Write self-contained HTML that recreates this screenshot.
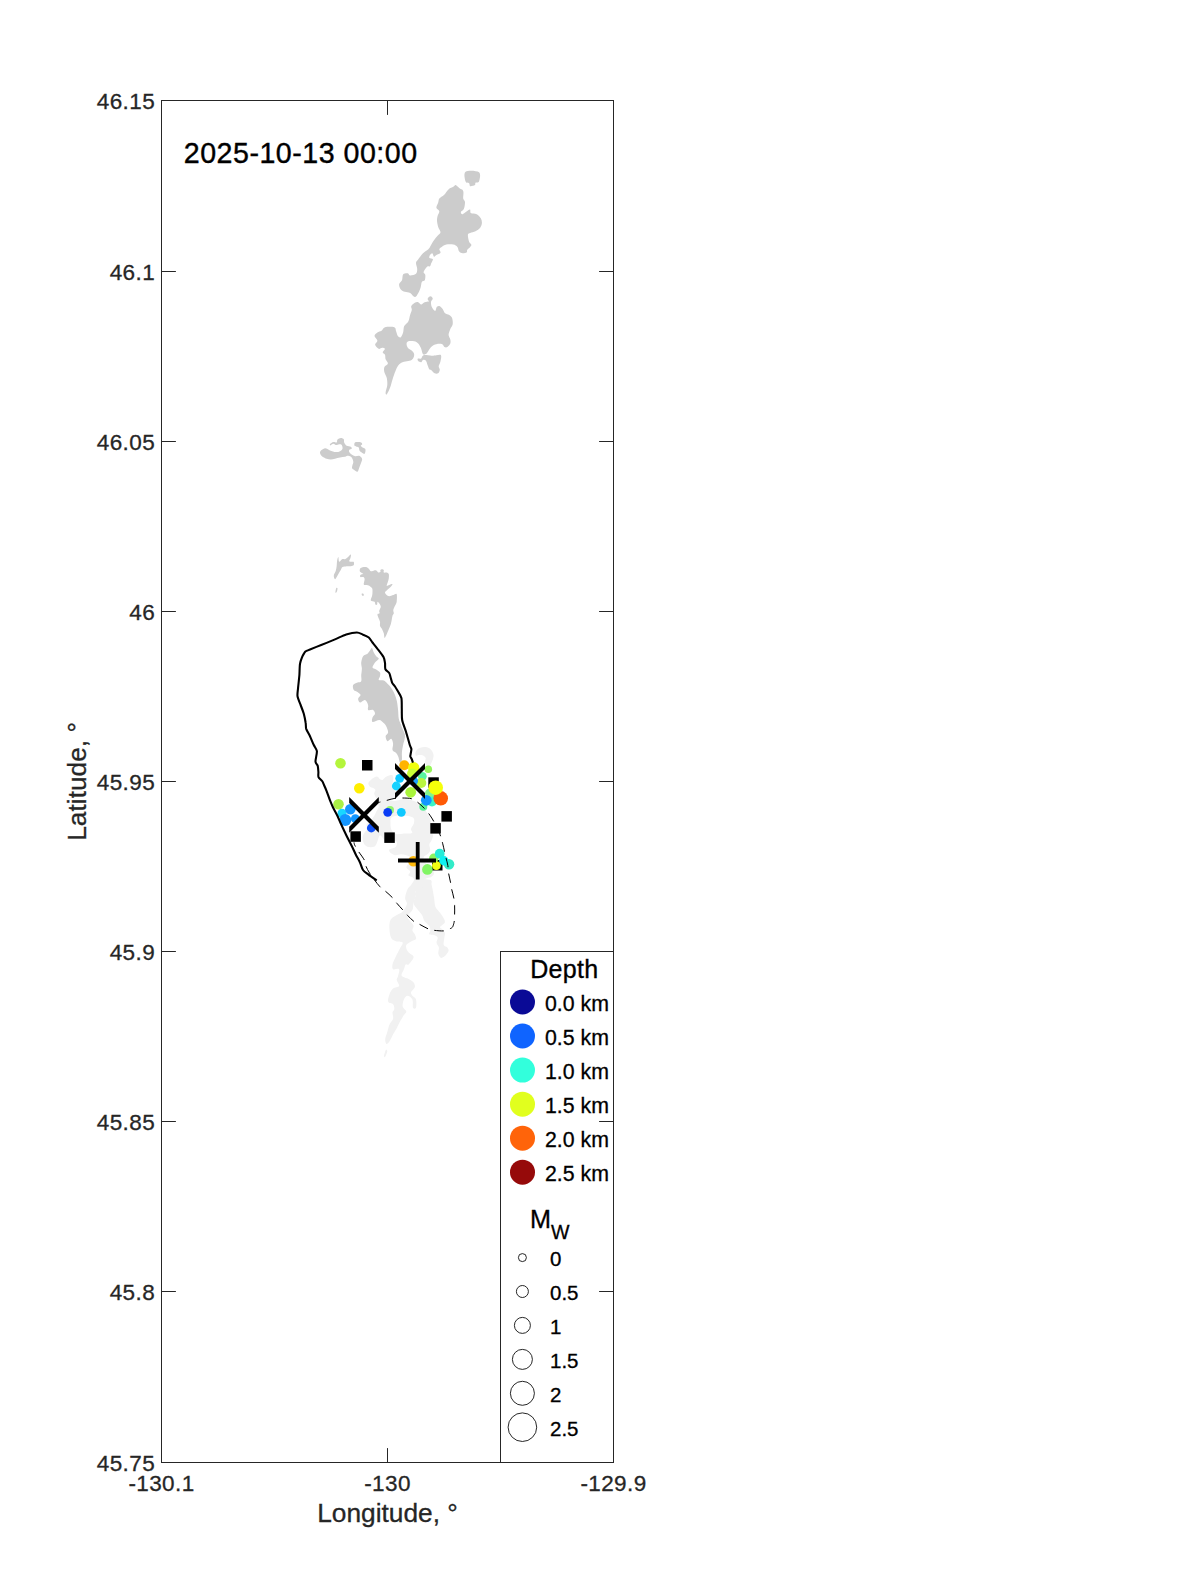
<!DOCTYPE html>
<html lang="en"><head><meta charset="utf-8"><title>Seismicity map</title>
<style>html,body{margin:0;padding:0;background:#fff}svg{display:block}text{font-family:"Liberation Sans",sans-serif}</style></head><body>
<svg width="1200" height="1575" viewBox="0 0 1200 1575">
<rect width="1200" height="1575" fill="#fff"/>
<g fill="#f1f1f1">
<path d="M412.4,884.8 C410.5,886.4 408.7,887.4 407.5,889.6 C406.3,891.9 405.2,895.7 405.1,898.1 C405.0,900.5 407.3,901.9 406.9,904.1 C406.5,906.3 404.4,909.5 402.7,911.4 C401.0,913.2 398.7,913.6 396.7,915.0 C394.7,916.4 391.9,917.6 390.6,919.8 C389.4,922.0 389.3,925.2 389.4,928.2 C389.5,931.2 390.0,935.7 391.2,937.9 C392.5,940.1 394.8,940.7 396.7,941.5 C398.6,942.3 402.3,941.3 402.7,942.7 C403.1,944.1 400.4,947.3 399.1,949.9 C397.8,952.6 396.0,956.0 394.9,958.4 C393.8,960.8 392.8,962.6 392.5,964.4 C392.2,966.2 392.0,968.4 393.1,969.2 C394.2,970.0 398.3,968.0 399.1,969.2 C399.9,970.4 398.3,974.7 397.9,976.5 C397.5,978.3 396.5,978.5 396.7,980.1 C396.9,981.7 399.7,984.7 399.1,986.1 C398.5,987.5 394.7,987.1 393.1,988.5 C391.4,989.9 390.2,992.3 389.4,994.6 C388.6,996.8 387.6,1000.2 388.2,1001.8 C388.8,1003.4 392.1,1003.0 393.1,1004.2 C394.1,1005.4 394.4,1007.6 394.3,1009.0 C394.2,1010.4 392.7,1011.0 392.5,1012.6 C392.3,1014.3 393.6,1016.7 393.1,1018.7 C392.6,1020.7 390.4,1022.3 389.4,1024.7 C388.4,1027.1 387.7,1030.7 387.0,1033.1 C386.3,1035.6 385.3,1037.4 385.2,1039.2 C385.1,1041.0 385.7,1043.6 386.4,1044.0 C387.1,1044.4 388.3,1043.2 389.4,1041.6 C390.5,1040.0 391.9,1036.6 393.1,1034.3 C394.3,1032.1 395.5,1030.5 396.7,1028.3 C397.9,1026.1 399.1,1023.3 400.3,1021.1 C401.5,1018.9 402.9,1016.7 403.9,1015.1 C404.9,1013.4 406.5,1012.8 406.3,1011.4 C406.1,1010.0 403.1,1008.6 402.7,1006.6 C402.3,1004.6 403.1,1001.2 403.9,999.4 C404.7,997.6 406.1,995.8 407.5,995.8 C408.9,995.8 411.4,997.4 412.4,999.4 C413.3,1001.4 412.4,1006.4 413.0,1007.8 C413.6,1009.2 415.5,1009.2 416.0,1007.8 C416.5,1006.4 416.6,1001.4 416.0,999.4 C415.4,997.4 413.2,997.0 412.4,995.8 C411.5,994.6 410.7,993.6 411.1,992.1 C411.5,990.7 414.4,988.9 414.8,987.3 C415.2,985.7 414.6,983.9 413.6,982.5 C412.6,981.1 410.1,979.7 408.7,978.9 C407.3,978.1 406.3,978.3 405.1,977.7 C403.9,977.1 401.7,976.7 401.5,975.3 C401.3,973.9 403.2,971.0 403.9,969.2 C404.6,967.4 404.9,965.2 405.7,964.4 C406.5,963.6 407.4,965.6 408.7,964.4 C410.0,963.2 413.4,959.0 413.6,957.2 C413.8,955.4 411.0,954.8 409.9,953.6 C408.8,952.4 407.5,951.3 406.9,949.9 C406.3,948.5 405.6,946.5 406.3,945.1 C407.0,943.7 409.5,942.5 411.1,941.5 C412.8,940.5 415.4,940.3 416.0,939.1 C416.6,937.9 415.4,935.7 414.8,934.3 C414.2,932.9 412.6,932.1 412.4,930.6 C412.2,929.2 413.8,927.2 413.6,925.8 C413.4,924.4 412.2,923.8 411.1,922.2 C410.1,920.6 407.3,918.2 407.5,916.2 C407.7,914.2 411.3,912.4 412.4,910.1 C413.4,907.9 413.0,905.5 413.6,902.9 C414.2,900.3 415.8,897.1 416.0,894.5 C416.2,891.9 414.4,889.6 414.8,887.2 C415.2,884.8 418.8,880.4 418.4,880.0 C418.0,879.6 414.2,883.2 412.4,884.8Z"/>
<path d="M418.4,880.0 C415.8,881.2 415.2,884.8 414.8,887.2 C414.4,889.6 416.2,891.9 416.0,894.5 C415.8,897.1 413.4,900.5 413.6,902.9 C413.8,905.3 415.8,906.9 417.2,908.9 C418.6,911.0 420.8,913.0 422.0,915.0 C423.2,917.0 423.2,919.2 424.4,921.0 C425.6,922.8 428.2,924.2 429.2,925.8 C430.2,927.4 430.4,929.2 430.4,930.6 C430.4,932.1 428.4,933.5 429.2,934.3 C430.0,935.1 433.9,934.9 435.3,935.5 C436.7,936.1 437.5,936.7 437.7,937.9 C437.9,939.1 436.3,941.1 436.5,942.7 C436.7,944.3 438.6,945.7 438.9,947.5 C439.2,949.3 438.0,951.8 438.3,953.6 C438.6,955.3 439.6,957.4 440.7,957.8 C441.8,958.2 443.6,957.1 444.9,956.0 C446.2,954.9 448.1,952.6 448.5,951.1 C448.9,949.7 448.1,948.5 447.3,947.5 C446.5,946.5 444.2,946.7 443.7,945.1 C443.2,943.5 444.1,939.9 444.3,937.9 C444.5,935.9 445.2,934.5 444.9,933.1 C444.6,931.7 443.3,930.4 442.5,929.4 C441.7,928.4 439.7,928.2 440.1,927.0 C440.5,925.8 444.5,924.0 444.9,922.2 C445.3,920.4 443.5,918.0 442.5,916.2 C441.5,914.4 440.1,913.0 438.9,911.4 C437.7,909.7 436.1,908.7 435.3,906.5 C434.5,904.3 434.5,900.7 434.1,898.1 C433.7,895.5 433.3,893.1 432.9,890.9 C432.4,888.6 432.0,886.6 431.6,884.8 C431.2,883.0 432.7,880.8 430.4,880.0 C428.2,879.2 421.0,878.8 418.4,880.0Z"/>
<path d="M385.8,1050.0 C386.4,1049.2 387.4,1050.1 387.3,1051.2 C387.2,1052.3 385.8,1055.9 385.2,1056.7 C384.7,1057.5 383.9,1057.2 384.0,1056.1 C384.1,1054.9 385.3,1050.8 385.8,1050.0Z"/>
<path d="M368.3,783.3 C368.5,782.2 369.9,781.0 370.8,780.0 C371.8,779.0 373.1,778.1 374.2,777.5 C375.3,776.9 376.5,776.4 377.5,776.7 C378.5,776.9 379.2,778.6 380.0,779.2 C380.8,779.7 381.7,780.3 382.5,780.0 C383.3,779.7 384.0,778.2 385.0,777.5 C386.0,776.8 387.2,776.2 388.3,775.8 C389.5,775.4 391.2,774.7 392.1,775.0 C392.9,775.3 393.2,776.4 393.3,777.5 C393.5,778.6 393.1,780.4 392.9,781.7 C392.7,782.9 392.0,783.9 392.1,785.0 C392.2,786.1 392.8,787.4 393.3,788.3 C393.9,789.3 395.2,789.7 395.4,790.8 C395.6,791.9 394.6,793.8 394.6,795.0 C394.6,796.2 395.9,797.7 395.4,798.3 C394.9,799.0 393.1,798.5 391.7,798.8 C390.2,799.0 388.5,799.4 386.7,800.0 C384.9,800.6 382.3,802.1 380.8,802.1 C379.4,802.1 378.8,800.9 377.9,800.0 C377.0,799.1 376.0,797.8 375.4,796.7 C374.8,795.6 374.2,794.4 374.2,793.3 C374.2,792.2 375.6,790.9 375.4,790.0 C375.3,789.1 374.2,788.5 373.3,787.9 C372.4,787.4 370.8,787.4 370.0,786.7 C369.2,785.9 368.2,784.4 368.3,783.3Z"/>
<path d="M415.3,753.0 C415.5,752.0 416.2,750.6 417.0,749.7 C417.8,748.8 419.0,748.1 420.3,747.7 C421.7,747.2 423.6,746.8 425.0,746.9 C426.4,746.9 427.8,747.3 429.0,748.0 C430.2,748.7 431.2,749.8 432.0,751.0 C432.8,752.2 433.4,753.7 433.5,755.0 C433.7,756.3 433.4,757.7 433.0,759.0 C432.6,760.3 432.0,761.7 431.3,763.0 C430.7,764.3 429.8,766.7 429.0,767.0 C428.2,767.3 427.0,765.9 426.3,765.0 C425.7,764.1 425.1,762.8 425.0,761.7 C424.9,760.6 425.8,759.2 425.7,758.3 C425.6,757.4 425.0,756.9 424.3,756.3 C423.7,755.8 422.7,755.2 421.7,755.0 C420.7,754.8 419.3,754.9 418.3,755.0 C417.4,755.1 416.5,756.0 416.0,755.7 C415.5,755.3 415.2,754.0 415.3,753.0Z"/>
<path d="M378.8,802.9 C380.2,801.7 384.7,800.3 387.4,800.0 C390.1,799.7 392.1,801.1 395.0,801.0 C397.9,800.8 401.3,799.0 404.5,799.0 C407.7,799.0 411.5,800.0 414.0,801.0 C416.6,801.9 417.9,803.2 419.8,804.8 C421.7,806.3 423.7,808.1 425.5,810.5 C427.2,812.9 429.3,816.5 430.2,819.0 C431.2,821.6 431.2,823.7 431.2,825.7 C431.2,827.8 429.9,829.8 430.2,831.4 C430.6,833.0 432.9,833.7 433.1,835.2 C433.3,836.8 431.8,839.4 431.2,841.0 C430.6,842.5 429.4,843.2 429.3,844.8 C429.1,846.3 430.6,848.9 430.2,850.5 C429.9,852.1 428.5,853.2 427.4,854.3 C426.3,855.4 423.9,855.7 423.6,857.1 C423.3,858.6 424.2,861.1 425.5,862.9 C426.7,864.6 429.8,865.9 431.2,867.6 C432.6,869.4 434.0,871.7 434.0,873.3 C434.0,874.9 432.3,876.3 431.2,877.1 C430.1,877.9 428.7,877.6 427.4,878.1 C426.1,878.6 424.7,879.2 423.6,880.0 C422.5,880.8 421.0,881.2 420.7,882.9 C420.4,884.5 423.7,888.8 421.7,890.0 C419.6,891.2 410.1,890.9 408.3,890.0 C406.6,889.1 410.2,886.4 411.2,884.8 C412.1,883.1 413.9,881.3 414.0,880.0 C414.2,878.7 413.1,877.9 412.1,877.1 C411.2,876.3 408.7,876.2 408.3,875.2 C408.0,874.3 410.6,872.7 410.2,871.4 C409.9,870.2 406.7,868.9 406.4,867.6 C406.1,866.3 407.5,865.4 408.3,863.8 C409.1,862.2 411.5,859.5 411.2,858.1 C410.9,856.7 408.2,855.9 406.4,855.2 C404.7,854.6 402.6,854.3 400.7,854.3 C398.8,854.3 396.7,855.6 395.0,855.2 C393.3,854.9 391.2,853.3 390.2,852.4 C389.3,851.4 388.5,850.3 389.3,849.5 C390.1,848.7 393.7,848.6 395.0,847.6 C396.3,846.7 396.9,844.9 396.9,843.8 C396.9,842.7 396.9,841.1 395.0,841.0 C393.1,840.8 387.4,843.2 385.5,842.9 C383.6,842.5 384.5,840.3 383.6,839.0 C382.6,837.8 380.9,834.6 379.8,835.2 C378.7,835.9 377.9,841.0 376.9,842.9 C376.0,844.8 375.6,846.0 374.0,846.7 C372.5,847.3 369.1,847.3 367.4,846.7 C365.6,846.0 364.4,844.4 363.6,842.9 C362.8,841.3 362.5,838.9 362.6,837.1 C362.8,835.4 363.6,833.8 364.5,832.4 C365.5,831.0 368.0,829.8 368.3,828.6 C368.7,827.3 366.1,826.0 366.4,824.8 C366.7,823.5 369.0,822.4 370.2,821.0 C371.5,819.5 372.9,817.9 374.0,816.2 C375.2,814.4 376.1,812.1 376.9,810.5 C377.7,808.9 378.5,807.9 378.8,806.7 C379.1,805.4 377.4,804.0 378.8,802.9Z"/>
</g>
<path d="M392.0,817.0 C394.1,815.8 399.5,815.4 403.0,815.5 C406.5,815.6 411.2,816.2 413.0,817.5 C414.8,818.8 414.3,821.1 414.0,823.0 C413.7,824.9 411.3,827.3 411.0,829.0 C410.7,830.7 413.2,832.2 412.0,833.0 C410.8,833.8 406.7,833.3 404.0,833.5 C401.3,833.7 398.1,834.6 396.0,834.0 C393.9,833.4 392.4,831.8 391.5,830.0 C390.6,828.2 390.4,825.2 390.5,823.0 C390.6,820.8 389.9,818.2 392.0,817.0Z" fill="#fff"/>
<g fill="#cccccc">
<path d="M465.6,171.7 C467.8,170.1 476.8,170.6 479.0,172.2 C481.2,173.9 479.6,179.8 479.0,181.6 C478.4,183.3 476.2,182.2 475.5,182.8 C474.8,183.3 475.8,184.5 474.9,185.1 C474.0,185.7 471.2,186.5 470.2,186.2 C469.3,186.0 469.9,184.1 469.1,183.3 C468.3,182.6 466.2,183.5 465.6,181.6 C465.0,179.6 463.3,173.2 465.6,171.7Z"/>
<path d="M455.7,185.1 C456.6,185.3 457.9,187.0 459.2,188.0 C460.4,189.0 462.6,189.2 463.2,190.9 C463.9,192.7 463.0,196.7 463.2,198.5 C463.5,200.3 464.9,200.2 465.0,202.0 C465.1,203.8 464.5,207.3 463.8,209.0 C463.2,210.7 461.1,211.0 460.9,211.9 C460.7,212.8 461.2,214.6 462.7,214.2 C464.1,213.9 468.3,209.8 469.7,209.6 C471.0,209.4 469.7,212.3 470.8,213.1 C472.0,213.9 475.0,213.4 476.7,214.2 C478.3,215.1 479.9,216.9 480.8,218.3 C481.6,219.8 482.0,221.4 481.9,223.0 C481.8,224.6 481.2,226.3 480.2,227.7 C479.1,229.0 477.2,230.3 475.5,231.2 C473.8,232.0 471.5,232.3 470.2,232.9 C469.0,233.5 468.1,233.2 467.9,234.7 C467.7,236.1 468.5,239.9 469.1,241.7 C469.7,243.4 471.7,243.8 471.4,245.2 C471.1,246.5 468.1,248.7 467.3,249.8 C466.6,251.0 467.5,251.6 466.8,252.2 C466.0,252.8 463.9,253.4 462.7,253.3 C461.4,253.2 460.0,252.7 459.2,251.6 C458.3,250.5 458.4,248.1 457.4,246.9 C456.4,245.8 455.2,245.0 453.3,244.6 C451.5,244.2 448.3,244.2 446.3,244.6 C444.4,245.0 442.8,246.1 441.7,246.9 C440.5,247.7 439.5,248.3 439.3,249.2 C439.1,250.2 441.0,251.8 440.5,252.8 C440.0,253.7 437.5,254.4 436.4,255.1 C435.3,255.8 434.8,257.1 434.1,256.8 C433.4,256.5 433.0,253.6 432.3,253.3 C431.7,253.0 430.5,254.3 430.0,255.1 C429.5,255.9 428.9,257.3 429.4,258.0 C429.9,258.7 432.6,258.3 432.9,259.2 C433.2,260.0 431.7,262.1 431.2,263.2 C430.7,264.4 430.7,265.6 430.0,266.2 C429.3,266.8 428.2,265.8 427.1,266.8 C426.0,267.7 423.9,270.6 423.6,272.0 C423.3,273.4 425.1,273.6 425.3,274.9 C425.5,276.3 425.3,279.0 424.8,280.2 C424.2,281.3 422.5,280.8 421.8,281.9 C421.2,283.1 421.2,285.3 420.7,287.2 C420.1,289.0 419.3,291.3 418.3,293.0 C417.4,294.7 416.2,297.1 414.8,297.1 C413.5,297.1 411.8,293.9 410.2,293.0 C408.5,292.1 406.5,292.4 404.9,291.8 C403.4,291.3 401.8,290.8 400.8,289.5 C399.9,288.2 398.9,285.8 399.1,284.2 C399.3,282.7 401.3,281.8 402.0,280.2 C402.7,278.5 402.2,275.5 403.2,274.3 C404.1,273.2 406.7,273.0 407.8,273.2 C409.0,273.4 408.8,275.4 410.2,275.5 C411.5,275.6 414.8,274.8 416.0,273.8 C417.2,272.7 417.2,270.9 417.2,269.1 C417.2,267.2 415.8,264.3 416.0,262.7 C416.2,261.0 417.2,260.7 418.3,259.2 C419.5,257.6 421.4,254.9 423.0,253.3 C424.6,251.8 426.5,250.9 427.7,249.8 C428.8,248.8 429.1,248.3 430.0,246.9 C430.9,245.6 431.7,243.5 432.9,241.7 C434.2,239.8 436.3,237.4 437.6,235.8 C438.8,234.3 440.4,233.8 440.5,232.3 C440.6,230.9 438.8,229.0 438.2,227.1 C437.6,225.1 437.1,222.5 437.0,220.7 C436.9,218.8 437.2,217.6 437.6,216.0 C438.0,214.4 439.5,212.7 439.3,211.3 C439.1,210.0 436.6,209.3 436.4,207.8 C436.2,206.4 437.7,204.1 438.2,202.6 C438.7,201.0 438.4,199.8 439.3,198.5 C440.3,197.2 442.4,196.6 444.0,195.0 C445.6,193.4 447.1,190.5 448.7,189.2 C450.2,187.8 452.2,187.5 453.3,186.8 C454.5,186.2 454.7,184.9 455.7,185.1Z"/>
<path d="M430.5,296.3 C431.4,296.3 432.7,297.8 432.8,298.7 C432.9,299.5 431.3,300.2 431.1,301.6 C430.9,302.9 431.0,305.3 431.7,306.8 C432.3,308.4 434.3,310.9 435.2,310.9 C436.0,310.9 436.1,307.6 436.9,306.8 C437.7,306.1 438.9,305.9 439.8,306.2 C440.8,306.6 441.9,308.0 442.8,309.2 C443.6,310.3 444.0,312.3 445.1,313.2 C446.2,314.2 448.0,314.2 449.2,315.0 C450.3,315.8 451.5,316.4 452.1,317.9 C452.7,319.5 453.0,322.5 452.7,324.3 C452.4,326.2 451.0,327.2 450.3,329.0 C449.7,330.8 448.6,333.1 448.6,334.8 C448.6,336.6 450.0,338.0 450.3,339.5 C450.6,341.0 450.8,342.3 450.3,343.6 C449.8,344.8 448.4,346.5 447.4,347.1 C446.4,347.7 445.4,347.6 444.5,347.1 C443.6,346.6 443.5,344.7 442.2,344.2 C440.8,343.7 438.1,343.8 436.3,344.2 C434.6,344.6 433.0,345.3 431.7,346.5 C430.3,347.7 429.1,349.9 428.2,351.2 C427.2,352.4 426.7,353.6 425.8,354.1 C425.0,354.6 423.7,355.0 422.9,354.1 C422.1,353.2 421.9,350.6 421.2,348.8 C420.4,347.1 419.4,344.8 418.2,343.6 C417.1,342.3 415.8,341.6 414.2,341.2 C412.5,340.9 409.6,340.9 408.3,341.2 C407.1,341.6 406.7,342.5 406.6,343.6 C406.5,344.7 406.8,346.4 407.8,347.7 C408.7,348.9 411.3,350.0 412.4,351.2 C413.5,352.3 414.2,353.3 414.2,354.7 C414.2,356.0 413.4,358.3 412.4,359.3 C411.4,360.4 410.0,360.6 408.3,361.1 C406.7,361.6 404.2,361.6 402.5,362.2 C400.8,362.9 399.6,363.7 398.4,365.2 C397.2,366.6 396.5,368.7 395.5,371.0 C394.5,373.3 393.5,376.4 392.6,379.2 C391.7,381.9 391.2,384.8 390.2,387.3 C389.3,389.9 387.5,393.5 386.8,394.3 C386.0,395.2 385.5,394.1 385.6,392.6 C385.7,391.0 387.1,387.4 387.3,385.0 C387.5,382.6 387.2,380.1 386.8,378.0 C386.3,375.9 384.8,374.0 384.4,372.2 C384.0,370.3 383.8,368.4 384.4,366.9 C385.0,365.5 387.7,364.7 387.9,363.4 C388.1,362.2 386.1,360.8 385.6,359.3 C385.1,357.9 385.5,355.8 385.0,354.7 C384.5,353.5 382.7,353.3 382.7,352.3 C382.7,351.4 385.1,349.6 385.0,348.8 C384.9,348.1 383.2,347.7 382.1,347.7 C381.0,347.7 379.8,349.3 378.6,348.8 C377.4,348.3 375.3,346.1 375.1,344.8 C374.9,343.4 377.5,342.1 377.4,340.7 C377.3,339.2 374.5,337.4 374.5,336.0 C374.5,334.6 376.2,333.4 377.4,332.5 C378.6,331.6 380.2,331.6 381.5,330.8 C382.8,329.9 382.9,327.8 385.0,327.2 C387.1,326.7 392.5,326.6 394.3,327.2 C396.2,327.9 395.5,329.9 396.1,331.3 C396.7,332.8 397.1,335.0 397.8,336.0 C398.6,337.0 399.9,337.8 400.8,337.2 C401.6,336.6 402.5,334.3 403.1,332.5 C403.7,330.7 403.4,327.9 404.2,326.1 C405.1,324.2 407.4,323.3 408.3,321.4 C409.3,319.6 409.5,316.9 410.1,315.0 C410.7,313.1 411.6,311.2 411.8,309.8 C412.0,308.3 410.8,307.4 411.2,306.2 C411.7,305.1 413.6,303.4 414.8,302.8 C415.9,302.1 417.2,301.9 418.2,302.2 C419.3,302.5 420.1,304.5 421.2,304.5 C422.2,304.5 423.4,302.7 424.7,302.2 C425.9,301.7 428.3,302.2 428.8,301.6 C429.2,301.0 427.3,299.5 427.6,298.7 C427.9,297.8 429.6,296.3 430.5,296.3Z"/>
<path d="M423.5,355.2 C425.2,354.8 429.5,355.8 431.7,355.8 C433.8,355.8 434.8,355.3 436.3,355.2 C437.9,355.2 440.3,354.2 441.0,355.2 C441.7,356.3 440.8,359.8 440.4,361.7 C440.0,363.5 438.8,365.0 438.7,366.3 C438.6,367.7 439.9,368.7 439.8,369.8 C439.7,371.0 439.0,372.8 438.1,373.3 C437.2,373.9 435.7,373.8 434.6,373.3 C433.5,372.8 432.5,371.1 431.7,370.4 C430.8,369.7 430.0,370.1 429.3,369.2 C428.7,368.4 428.2,366.6 427.6,365.2 C427.0,363.7 426.6,361.4 425.8,360.5 C425.1,359.6 423.7,359.6 422.9,359.9 C422.1,360.2 421.9,362.1 421.2,362.2 C420.4,362.4 418.8,361.7 418.2,361.1 C417.7,360.5 417.2,359.2 417.7,358.8 C418.2,358.3 420.2,359.0 421.2,358.4 C422.1,357.8 421.8,355.7 423.5,355.2Z"/>
<path d="M320.4,451.2 C321.2,450.3 323.4,448.5 325.0,448.3 C326.6,448.2 328.2,449.8 330.0,450.4 C331.8,451.0 334.2,451.9 335.8,452.1 C337.5,452.2 338.9,451.8 340.0,451.2 C341.1,450.7 342.2,449.8 342.5,448.8 C342.8,447.7 342.2,445.8 341.7,445.0 C341.1,444.2 340.1,444.2 339.2,444.2 C338.2,444.2 336.8,445.1 335.8,445.0 C334.9,444.9 334.2,443.7 333.3,443.8 C332.4,443.8 331.0,445.3 330.4,445.4 C329.9,445.5 329.5,444.7 330.0,444.2 C330.5,443.6 332.2,442.4 333.3,442.1 C334.4,441.8 336.0,442.9 336.7,442.5 C337.4,442.1 336.8,440.3 337.5,439.6 C338.2,438.8 339.8,438.0 340.8,437.9 C341.9,437.8 343.2,438.4 343.8,439.2 C344.3,439.9 343.7,441.4 344.2,442.5 C344.7,443.6 345.6,445.1 346.7,445.8 C347.8,446.5 350.0,446.2 350.8,446.7 C351.7,447.2 351.9,448.2 351.7,448.8 C351.4,449.3 349.6,449.4 349.2,450.0 C348.8,450.6 348.8,451.3 349.2,452.1 C349.6,452.8 350.7,453.9 351.7,454.6 C352.6,455.3 353.8,456.0 355.0,456.2 C356.2,456.5 358.0,455.4 359.2,455.8 C360.3,456.2 361.7,457.6 362.1,458.8 C362.4,459.9 361.7,461.2 361.2,462.5 C360.8,463.8 360.2,465.1 359.6,466.7 C359.0,468.2 358.4,471.1 357.5,471.7 C356.6,472.2 355.1,470.6 354.2,470.0 C353.3,469.4 352.4,469.2 352.1,468.3 C351.8,467.5 352.3,466.1 352.5,465.0 C352.7,463.9 353.5,462.9 353.3,461.7 C353.2,460.4 352.5,458.5 351.7,457.5 C350.8,456.5 349.4,456.0 348.3,455.8 C347.2,455.7 346.4,456.4 345.0,456.7 C343.6,456.9 341.7,457.2 340.0,457.5 C338.3,457.8 336.5,458.4 335.0,458.8 C333.5,459.1 332.2,459.6 330.8,459.6 C329.4,459.6 328.1,459.2 326.7,458.8 C325.3,458.3 323.5,457.4 322.5,456.7 C321.5,455.9 320.8,455.1 320.4,454.2 C320.1,453.3 319.7,452.2 320.4,451.2Z"/>
<path d="M354.6,442.9 C354.9,442.3 355.6,442.2 356.7,442.1 C357.8,442.0 360.3,442.1 361.2,442.5 C362.2,442.9 362.2,444.0 362.1,444.6 C362.0,445.1 360.8,445.3 360.8,445.8 C360.9,446.3 361.7,446.9 362.5,447.5 C363.3,448.1 365.1,448.1 365.4,449.2 C365.8,450.2 365.2,453.2 364.6,453.8 C364.0,454.3 362.5,453.0 361.7,452.5 C360.8,452.0 360.1,451.7 359.6,450.8 C359.1,450.0 359.2,448.2 358.8,447.5 C358.3,446.8 357.4,446.9 356.7,446.7 C356.0,446.4 354.9,446.5 354.6,445.8 C354.2,445.2 354.2,443.5 354.6,442.9Z"/>
<path d="M350.8,554.6 C351.3,554.7 350.7,557.2 350.4,558.3 C350.1,559.4 348.9,560.7 349.2,561.2 C349.4,561.8 351.3,561.5 352.1,561.7 C352.8,561.8 353.5,561.5 353.8,562.1 C354.0,562.6 354.2,564.3 353.8,565.0 C353.3,565.7 352.0,566.0 350.8,566.2 C349.7,566.5 348.1,566.1 346.7,566.2 C345.3,566.4 343.5,566.5 342.5,567.1 C341.5,567.7 341.5,569.0 340.8,570.0 C340.2,571.0 339.4,572.2 338.8,573.3 C338.1,574.5 337.3,576.1 336.7,577.1 C336.0,578.1 335.5,579.4 335.0,579.2 C334.5,578.9 333.6,576.8 333.8,575.4 C333.9,574.0 335.3,572.4 335.8,570.8 C336.3,569.2 336.5,567.5 336.7,565.8 C336.9,564.2 336.8,562.3 337.1,560.8 C337.4,559.4 338.0,556.9 338.3,557.1 C338.7,557.2 338.5,561.3 339.2,561.7 C339.8,562.0 341.1,559.6 342.1,559.2 C343.1,558.8 344.1,559.4 345.0,559.2 C345.9,558.9 346.5,558.3 347.5,557.5 C348.5,556.7 350.3,554.4 350.8,554.6Z"/>
<path d="M336.2,588.3 C336.6,587.6 337.4,587.7 337.5,588.3 C337.6,589.0 337.0,591.4 336.7,592.1 C336.3,592.8 335.5,593.1 335.4,592.5 C335.3,591.9 335.9,589.0 336.2,588.3Z"/>
<path d="M361.7,593.8 C361.9,593.5 363.0,593.5 363.3,593.8 C363.7,594.0 364.0,595.1 363.8,595.4 C363.5,595.7 362.4,595.7 362.1,595.4 C361.7,595.1 361.5,594.0 361.7,593.8Z"/>
<path d="M360.4,568.3 C361.2,567.6 363.7,567.1 365.0,567.1 C366.3,567.1 367.4,567.6 368.3,568.3 C369.3,569.0 369.9,570.9 370.8,571.2 C371.8,571.6 373.2,570.5 374.2,570.4 C375.1,570.3 376.0,570.5 376.7,570.8 C377.4,571.2 377.7,572.3 378.3,572.5 C379.0,572.7 380.1,572.5 380.4,572.1 C380.8,571.7 380.1,570.5 380.4,570.0 C380.7,569.5 381.5,569.2 382.1,569.2 C382.6,569.2 383.5,569.4 383.8,570.0 C384.0,570.6 383.3,572.1 383.8,572.5 C384.2,572.9 385.8,572.2 386.7,572.5 C387.5,572.8 388.4,573.2 388.8,574.2 C389.1,575.1 388.9,577.1 388.8,578.3 C388.6,579.6 388.3,580.4 387.9,581.7 C387.6,582.9 386.5,585.3 386.7,585.8 C386.9,586.4 388.2,585.3 389.2,585.0 C390.1,584.7 392.4,583.8 392.5,584.2 C392.6,584.6 391.0,586.5 390.0,587.5 C389.0,588.5 387.5,589.6 386.7,590.4 C385.8,591.2 385.0,591.7 385.0,592.5 C385.0,593.3 386.0,594.4 386.7,595.0 C387.4,595.6 388.1,596.2 389.2,596.2 C390.3,596.2 392.1,595.3 393.3,595.0 C394.6,594.7 396.1,593.1 396.7,594.2 C397.2,595.3 396.9,599.7 396.7,601.7 C396.4,603.6 395.6,604.4 395.0,605.8 C394.4,607.2 393.5,608.8 393.3,610.0 C393.1,611.2 393.9,612.4 393.8,613.3 C393.6,614.3 392.8,614.7 392.5,615.8 C392.2,616.9 391.9,618.6 391.7,620.0 C391.4,621.4 391.3,622.6 390.8,624.2 C390.3,625.7 389.4,627.5 388.8,629.2 C388.1,630.8 387.4,632.7 386.7,634.2 C386.0,635.6 385.1,638.1 384.6,637.9 C384.1,637.8 384.2,634.8 383.8,633.3 C383.3,631.9 382.7,630.4 382.1,629.2 C381.5,627.9 380.3,627.1 380.0,625.8 C379.7,624.6 380.3,623.1 380.0,621.7 C379.7,620.3 378.8,618.8 378.3,617.5 C377.9,616.2 377.3,614.9 377.5,614.2 C377.7,613.5 379.3,613.9 379.6,613.3 C379.9,612.8 379.0,611.9 379.2,610.8 C379.4,609.7 380.8,607.9 380.8,606.7 C380.8,605.4 379.7,604.2 379.2,603.3 C378.6,602.5 377.8,601.5 377.5,601.7 C377.2,601.9 377.4,604.1 377.1,604.6 C376.7,605.1 375.8,605.1 375.4,604.6 C375.0,604.1 375.3,602.4 374.6,601.7 C373.8,601.0 371.2,601.4 370.8,600.4 C370.4,599.4 371.8,597.3 372.1,595.8 C372.4,594.4 372.5,592.9 372.5,591.7 C372.5,590.4 372.6,589.3 372.1,588.3 C371.5,587.4 370.1,586.4 369.2,585.8 C368.3,585.3 367.6,585.2 366.7,585.0 C365.8,584.8 364.1,585.6 363.8,584.6 C363.4,583.6 364.7,580.4 364.6,579.2 C364.5,577.9 364.0,577.4 363.3,577.1 C362.6,576.7 360.9,577.4 360.4,577.1 C359.9,576.7 359.9,575.6 360.4,575.0 C360.9,574.4 363.4,574.3 363.3,573.8 C363.3,573.2 360.5,572.6 360.0,571.7 C359.5,570.8 359.6,569.1 360.4,568.3Z"/>
<path d="M371.9,648.1 C372.5,648.4 373.0,651.1 373.8,652.5 C374.5,653.9 375.4,655.2 376.2,656.2 C377.1,657.3 379.0,657.7 378.8,658.8 C378.5,659.8 376.0,661.0 375.0,662.5 C374.0,664.0 372.3,666.4 372.5,667.5 C372.7,668.6 375.0,668.5 376.2,669.4 C377.5,670.2 379.4,671.4 380.0,672.5 C380.6,673.6 380.2,675.0 380.0,676.2 C379.8,677.5 378.1,679.3 378.8,680.0 C379.4,680.7 382.3,680.0 383.8,680.6 C385.2,681.2 386.5,682.8 387.5,683.8 C388.5,684.7 389.2,685.2 390.0,686.2 C390.8,687.3 391.7,688.5 392.5,690.0 C393.3,691.5 394.3,693.1 395.0,695.0 C395.7,696.9 396.4,698.8 396.9,701.2 C397.4,703.8 397.8,707.1 398.1,710.0 C398.4,712.9 398.3,716.5 398.8,718.8 C399.2,721.0 400.0,722.1 400.6,723.8 C401.2,725.4 401.8,726.9 402.5,728.8 C403.2,730.6 404.7,733.1 405.0,735.0 C405.3,736.9 404.7,738.3 404.4,740.0 C404.1,741.7 403.5,742.9 403.1,745.0 C402.7,747.1 402.1,750.0 401.9,752.5 C401.7,755.0 402.2,758.3 401.9,760.0 C401.6,761.7 400.6,763.1 400.0,762.5 C399.4,761.9 398.9,757.9 398.1,756.2 C397.4,754.6 396.6,753.5 395.6,752.5 C394.7,751.5 392.9,751.5 392.5,750.0 C392.1,748.5 393.3,745.6 393.1,743.8 C392.9,741.9 392.2,739.2 391.2,738.8 C390.3,738.3 388.4,741.7 387.5,741.2 C386.6,740.8 385.5,737.7 385.6,736.2 C385.7,734.8 388.0,734.2 388.1,732.5 C388.2,730.8 387.1,727.9 386.2,726.2 C385.4,724.6 384.3,723.5 383.1,722.5 C382.0,721.5 381.1,720.1 379.4,720.0 C377.6,719.9 373.6,722.3 372.5,721.9 C371.4,721.5 372.1,718.9 372.5,717.5 C372.9,716.1 374.9,715.0 375.0,713.8 C375.1,712.5 374.3,710.6 373.1,710.0 C372.0,709.4 369.0,710.8 368.1,710.0 C367.3,709.2 368.6,706.7 368.1,705.0 C367.6,703.3 366.4,700.4 365.0,700.0 C363.6,699.6 361.1,702.7 360.0,702.5 C358.9,702.3 358.0,700.0 358.1,698.8 C358.2,697.5 360.7,696.1 360.6,695.0 C360.5,693.9 358.6,692.7 357.5,691.9 C356.4,691.0 354.5,691.1 353.8,690.0 C353.0,688.9 352.5,686.2 353.1,685.0 C353.8,683.8 356.1,683.1 357.5,682.5 C358.9,681.9 360.6,682.5 361.2,681.2 C361.9,680.0 361.1,677.1 361.2,675.0 C361.4,672.9 361.9,670.8 361.9,668.8 C361.9,666.7 361.0,664.6 361.2,662.5 C361.5,660.4 362.1,657.7 363.1,656.2 C364.2,654.8 366.4,654.7 367.5,653.8 C368.6,652.8 369.3,651.6 370.0,650.6 C370.7,649.7 371.2,647.8 371.9,648.1Z"/>
</g>
<g fill="#000">
<rect x="362.0" y="760.0" width="10.5" height="10.5"/>
<rect x="428.3" y="777.3" width="10.5" height="10.5"/>
<rect x="441.4" y="811.1" width="10.5" height="10.5"/>
<rect x="430.3" y="823.1" width="10.5" height="10.5"/>
<rect x="350.4" y="831.3" width="10.5" height="10.5"/>
<rect x="384.3" y="832.4" width="10.5" height="10.5"/>
<rect x="432.0" y="860.0" width="10.5" height="10.5"/>
</g>
<g>
<circle cx="404.3" cy="765.3" r="5.0" fill="#ffb300"/>
<circle cx="413.7" cy="767.7" r="5.7" fill="#f0ff0f"/>
<circle cx="412.3" cy="773.7" r="5.3" fill="#c8ff37"/>
<circle cx="428.3" cy="769.3" r="3.8" fill="#96f55a"/>
<circle cx="422.3" cy="776.3" r="4.4" fill="#5af5a0"/>
<circle cx="421.3" cy="783.0" r="5.0" fill="#b9f540"/>
<circle cx="399.7" cy="778.3" r="4.4" fill="#0fc8ff"/>
<circle cx="396.3" cy="786.0" r="4.4" fill="#19d2ff"/>
<circle cx="413.5" cy="781.0" r="4.5" fill="#1aa0ff"/>
<circle cx="410.7" cy="792.3" r="5.4" fill="#aaf53c"/>
<circle cx="430.0" cy="793.5" r="5.0" fill="#82f58c"/>
<circle cx="432.0" cy="801.5" r="5.0" fill="#3cf5c8"/>
<circle cx="423.3" cy="806.7" r="4.0" fill="#5af096"/>
<circle cx="426.3" cy="800.3" r="5.4" fill="#1496ff"/>
<circle cx="440.7" cy="798.3" r="7.3" fill="#ff5a05"/>
<circle cx="340.5" cy="763.3" r="5.3" fill="#b4f53c"/>
<circle cx="359.3" cy="788.3" r="5.3" fill="#ffee00"/>
<circle cx="338.5" cy="804.3" r="5.3" fill="#aaf046"/>
<circle cx="342.0" cy="813.3" r="4.5" fill="#19d7ff"/>
<circle cx="350.3" cy="809.3" r="5.3" fill="#1496ff"/>
<circle cx="355.3" cy="818.7" r="4.4" fill="#1496ff"/>
<circle cx="345.3" cy="820.0" r="6.0" fill="#1496ff"/>
<circle cx="390.0" cy="810.0" r="4.0" fill="#96f56e"/>
<circle cx="387.7" cy="812.3" r="4.4" fill="#0a3cf5"/>
<circle cx="401.3" cy="812.3" r="4.4" fill="#0fc8ff"/>
<circle cx="371.3" cy="828.0" r="4.4" fill="#0f50f5"/>
<circle cx="413.4" cy="861.3" r="5.3" fill="#ffb90a"/>
<circle cx="433.8" cy="858.3" r="4.7" fill="#8cf55f"/>
<circle cx="427.4" cy="869.4" r="5.3" fill="#82f564"/>
<circle cx="439.7" cy="853.7" r="4.9" fill="#28ebd7"/>
<circle cx="449.0" cy="864.2" r="5.3" fill="#32ebc8"/>
<circle cx="443.8" cy="860.7" r="4.7" fill="#0ff0f0"/>
<circle cx="435.7" cy="787.7" r="7.3" fill="#f5ff0a"/>
<circle cx="436.4" cy="865.6" r="4.4" fill="#f0ff14"/>
</g>
<path d="M413.0,762.7 C412.8,762.2 412.1,759.9 411.7,759.0 C411.3,758.1 410.4,757.0 410.3,756.3 C410.2,755.6 410.6,754.7 410.7,753.7 C410.8,752.7 411.5,750.2 411.4,749.0 C411.3,747.8 410.5,747.3 409.8,745.0 C409.1,742.7 407.0,735.0 406.0,731.7 C405.0,728.4 402.8,723.3 402.2,720.2 C401.6,717.1 401.9,711.7 401.8,708.8 C401.7,705.9 401.9,700.3 401.4,698.1 C400.9,695.9 399.2,693.5 398.3,692.0 C397.4,690.5 395.8,687.7 395.0,686.5 C394.2,685.3 392.8,684.2 392.2,682.9 C391.6,681.6 390.9,678.3 390.5,677.0 C390.1,675.7 389.9,674.0 389.2,673.0 C388.5,672.0 386.0,670.5 385.4,669.2 C384.8,667.9 385.3,664.6 385.0,663.0 C384.7,661.4 384.5,658.9 383.5,657.0 C382.5,655.1 379.0,650.7 377.5,648.8 C376.0,646.8 373.7,644.0 372.5,642.5 C371.3,641.0 370.1,638.6 368.8,637.5 C367.4,636.4 364.1,635.0 362.5,634.4 C360.9,633.7 359.0,632.5 356.9,632.5 C354.7,632.5 349.2,633.5 346.2,634.4 C343.3,635.3 338.3,638.0 335.0,639.4 C331.7,640.8 324.6,643.7 321.2,645.0 C317.9,646.3 312.0,648.6 310.0,649.4 C308.0,650.2 307.1,650.6 306.5,650.9 C305.9,651.2 305.7,651.3 305.4,651.6 C305.0,652.0 304.4,652.8 304.0,653.5 C303.6,654.2 302.8,655.5 302.2,656.9 C301.7,658.2 300.4,661.3 300.0,663.8 C299.6,666.2 299.6,671.8 299.4,675.0 C299.1,678.2 298.4,684.7 298.1,687.5 C297.9,690.3 297.2,693.9 297.5,696.2 C297.8,698.6 299.8,702.7 300.6,705.0 C301.5,707.3 303.1,711.4 303.8,713.8 C304.4,716.1 305.3,720.5 305.6,722.5 C306.0,724.5 305.7,726.9 306.2,728.8 C306.8,730.6 309.0,734.1 310.0,736.2 C311.0,738.4 312.8,743.0 313.8,745.0 C314.7,747.0 316.6,749.0 316.9,751.2 C317.1,753.5 315.4,759.5 315.5,761.5 C315.6,763.5 317.4,764.7 317.8,766.1 C318.1,767.5 318.3,770.5 318.4,772.0 C318.5,773.5 318.0,775.9 318.5,777.1 C319.0,778.3 321.6,780.2 322.3,781.3 C323.0,782.4 323.4,783.7 324.0,785.0 C324.6,786.3 325.9,789.3 326.7,791.3 C327.5,793.3 329.1,798.1 330.0,800.3 C330.9,802.5 332.3,805.9 333.3,808.0 C334.3,810.1 336.5,813.9 337.5,816.0 C338.5,818.1 340.0,821.8 341.0,824.0 C342.0,826.2 344.0,830.4 345.0,832.5 C346.0,834.6 347.7,838.0 348.7,840.0 C349.7,842.0 351.5,845.5 352.5,847.5 C353.5,849.5 355.0,853.0 356.0,855.0 C357.0,857.0 359.1,860.5 360.0,862.5 C360.9,864.5 361.9,868.4 363.0,870.0 C364.1,871.6 366.7,873.3 368.5,874.7 C370.3,876.1 375.6,879.7 376.7,880.5" fill="none" stroke="#000" stroke-width="2.1" stroke-linejoin="round"/>
<path d="M378.5,802.5 C379.9,802.1 384.2,801.0 387.0,800.3 C389.8,799.6 392.4,798.7 395.0,798.3 C397.6,797.9 399.6,797.9 402.3,798.0 C405.1,798.1 409.0,798.0 411.5,798.7 C414.0,799.4 415.4,800.6 417.5,802.2 C419.6,803.8 422.5,806.5 424.3,808.3 C426.1,810.1 426.7,810.8 428.3,813.0 C429.9,815.2 431.8,817.8 433.7,821.3 C435.6,824.8 438.2,830.1 439.7,833.8 C441.2,837.4 441.6,839.5 442.6,843.2 C443.6,846.9 444.6,852.3 445.5,856.0 C446.4,859.7 447.3,862.4 447.8,865.3 C448.3,868.2 448.2,870.5 448.6,873.3 C449.1,876.1 450.0,879.7 450.5,882.3 C451.0,884.9 451.0,886.3 451.6,889.0 C452.2,891.7 453.4,895.6 453.9,898.4 C454.4,901.1 454.5,902.8 454.6,905.5 C454.7,908.2 454.7,911.9 454.6,914.5 C454.6,917.1 454.6,919.0 454.3,920.9 C454.1,922.8 453.5,924.7 453.1,925.8 C452.7,926.9 452.6,927.1 452.0,927.6 C451.4,928.1 451.2,928.2 449.8,928.8 C448.4,929.3 446.4,930.6 443.8,930.9 C441.2,931.1 436.6,930.6 434.0,930.3 C431.4,929.9 430.3,929.8 428.0,928.8 C425.7,927.8 422.4,925.8 420.1,924.6 C417.8,923.4 416.2,923.2 414.1,921.6 C412.0,920.0 409.3,917.2 407.4,915.3 C405.5,913.4 404.6,912.0 402.9,910.0 C401.1,908.0 398.6,905.4 396.9,903.3 C395.1,901.2 394.3,899.6 392.4,897.6 C390.5,895.6 387.4,892.9 385.3,891.1 C383.2,889.3 381.8,888.6 380.0,886.8 C378.2,884.9 376.2,882.3 374.5,880.0 C372.8,877.7 370.9,875.3 369.5,873.0 C368.1,870.7 366.8,868.4 366.0,866.3 C365.2,864.2 365.8,862.9 364.5,860.3 C363.2,857.7 359.7,853.4 358.1,850.9 C356.5,848.4 355.5,846.7 354.8,845.3 C354.1,843.9 354.1,842.8 354.0,842.3" fill="none" stroke="#000" stroke-width="1" stroke-dasharray="9.5 6.5" stroke-dashoffset="7.5"/>
<g fill="#000"><path d="M395,763.0L395,769.0L425,799.0L425,793.0Z"/><path d="M425,763.0L425,769.0L395,799.0L395,793.0Z"/><path d="M349.2,797.1L349.2,803.1L378.8,832.6999999999999L378.8,826.6999999999999Z"/><path d="M378.8,797.1L378.8,803.1L349.2,832.6999999999999L349.2,826.6999999999999Z"/></g>
<path d="M398,860.5H436M417.7,842V879.6" stroke="#000" stroke-width="3.8" fill="none"/>
<g stroke="#262626" stroke-width="1" fill="none">
<rect x="161.5" y="100.5" width="452.0" height="1362.0"/>
<path d="M161.5,271.5h14.4M613.5,271.5h-14.4M161.5,441.5h14.4M613.5,441.5h-14.4M161.5,611.5h14.4M613.5,611.5h-14.4M161.5,781.5h14.4M613.5,781.5h-14.4M161.5,951.5h14.4M613.5,951.5h-14.4M161.5,1121.5h14.4M613.5,1121.5h-14.4M161.5,1291.5h14.4M613.5,1291.5h-14.4M387.5,100.5v14.4M387.5,1462.5v-14.4"/>
</g>
<g fill="#262626" stroke="#262626" stroke-width="0.3" font-size="22.5" letter-spacing="0.4">
<text x="155.1" y="108.9" text-anchor="end">46.15</text>
<text x="155.1" y="279.9" text-anchor="end">46.1</text>
<text x="155.1" y="449.9" text-anchor="end">46.05</text>
<text x="155.1" y="619.9" text-anchor="end">46</text>
<text x="155.1" y="789.9" text-anchor="end">45.95</text>
<text x="155.1" y="959.9" text-anchor="end">45.9</text>
<text x="155.1" y="1129.9" text-anchor="end">45.85</text>
<text x="155.1" y="1299.9" text-anchor="end">45.8</text>
<text x="155.1" y="1470.9" text-anchor="end">45.75</text>
<text x="161.5" y="1490.5" text-anchor="middle">-130.1</text>
<text x="387.5" y="1490.5" text-anchor="middle">-130</text>
<text x="613.5" y="1490.5" text-anchor="middle">-129.9</text>
</g>
<g fill="#262626" stroke="#262626" stroke-width="0.3" font-size="26.3">
<text x="387.5" y="1521.7" text-anchor="middle">Longitude, °</text>
<text transform="translate(86.1,781.4) rotate(-90)" text-anchor="middle">Latitude, °</text>
</g>
<text x="183.8" y="163" font-size="28.6" letter-spacing="0.5" stroke="#000" stroke-width="0.4" fill="#000">2025-10-13 00:00</text>
<rect x="500.5" y="951.5" width="113" height="511" fill="none" stroke="#262626" stroke-width="1"/>
<text x="564.4" y="977.6" font-size="25" letter-spacing="0.35" stroke="#000" stroke-width="0.35" text-anchor="middle" fill="#000">Depth</text>
<circle cx="522.5" cy="1002.0" r="12.5" fill="#0a0a96"/>
<text x="545" y="1010.6" font-size="21.3" stroke="#000" stroke-width="0.3" fill="#000">0.0 km</text>
<circle cx="522.5" cy="1036.0" r="12.5" fill="#0f64ff"/>
<text x="545" y="1044.6" font-size="21.3" stroke="#000" stroke-width="0.3" fill="#000">0.5 km</text>
<circle cx="522.5" cy="1070.1" r="12.5" fill="#32ffdc"/>
<text x="545" y="1078.7" font-size="21.3" stroke="#000" stroke-width="0.3" fill="#000">1.0 km</text>
<circle cx="522.5" cy="1104.2" r="12.5" fill="#e1ff1e"/>
<text x="545" y="1112.8" font-size="21.3" stroke="#000" stroke-width="0.3" fill="#000">1.5 km</text>
<circle cx="522.5" cy="1138.2" r="12.5" fill="#ff640a"/>
<text x="545" y="1146.8" font-size="21.3" stroke="#000" stroke-width="0.3" fill="#000">2.0 km</text>
<circle cx="522.5" cy="1172.2" r="12.5" fill="#960a0a"/>
<text x="545" y="1180.8" font-size="21.3" stroke="#000" stroke-width="0.3" fill="#000">2.5 km</text>
<text x="530" y="1227.6" font-size="25.2" stroke="#000" stroke-width="0.3" fill="#000">M<tspan font-size="19.6" dy="11.8">W</tspan></text>
<circle cx="522.4" cy="1257.6" r="4.0" fill="none" stroke="#000" stroke-width="0.85"/>
<text x="550" y="1266.4" font-size="20.5" stroke="#000" stroke-width="0.3" fill="#000">0</text>
<circle cx="522.4" cy="1291.5" r="6.0" fill="none" stroke="#000" stroke-width="0.85"/>
<text x="550" y="1300.3" font-size="20.5" stroke="#000" stroke-width="0.3" fill="#000">0.5</text>
<circle cx="522.4" cy="1325.4" r="8.0" fill="none" stroke="#000" stroke-width="0.85"/>
<text x="550" y="1334.2" font-size="20.5" stroke="#000" stroke-width="0.3" fill="#000">1</text>
<circle cx="522.4" cy="1359.4" r="10.0" fill="none" stroke="#000" stroke-width="0.85"/>
<text x="550" y="1368.2" font-size="20.5" stroke="#000" stroke-width="0.3" fill="#000">1.5</text>
<circle cx="522.4" cy="1393.3" r="12.0" fill="none" stroke="#000" stroke-width="0.85"/>
<text x="550" y="1402.1" font-size="20.5" stroke="#000" stroke-width="0.3" fill="#000">2</text>
<circle cx="522.4" cy="1427.2" r="14.3" fill="none" stroke="#000" stroke-width="0.85"/>
<text x="550" y="1436.0" font-size="20.5" stroke="#000" stroke-width="0.3" fill="#000">2.5</text>
</svg></body></html>
